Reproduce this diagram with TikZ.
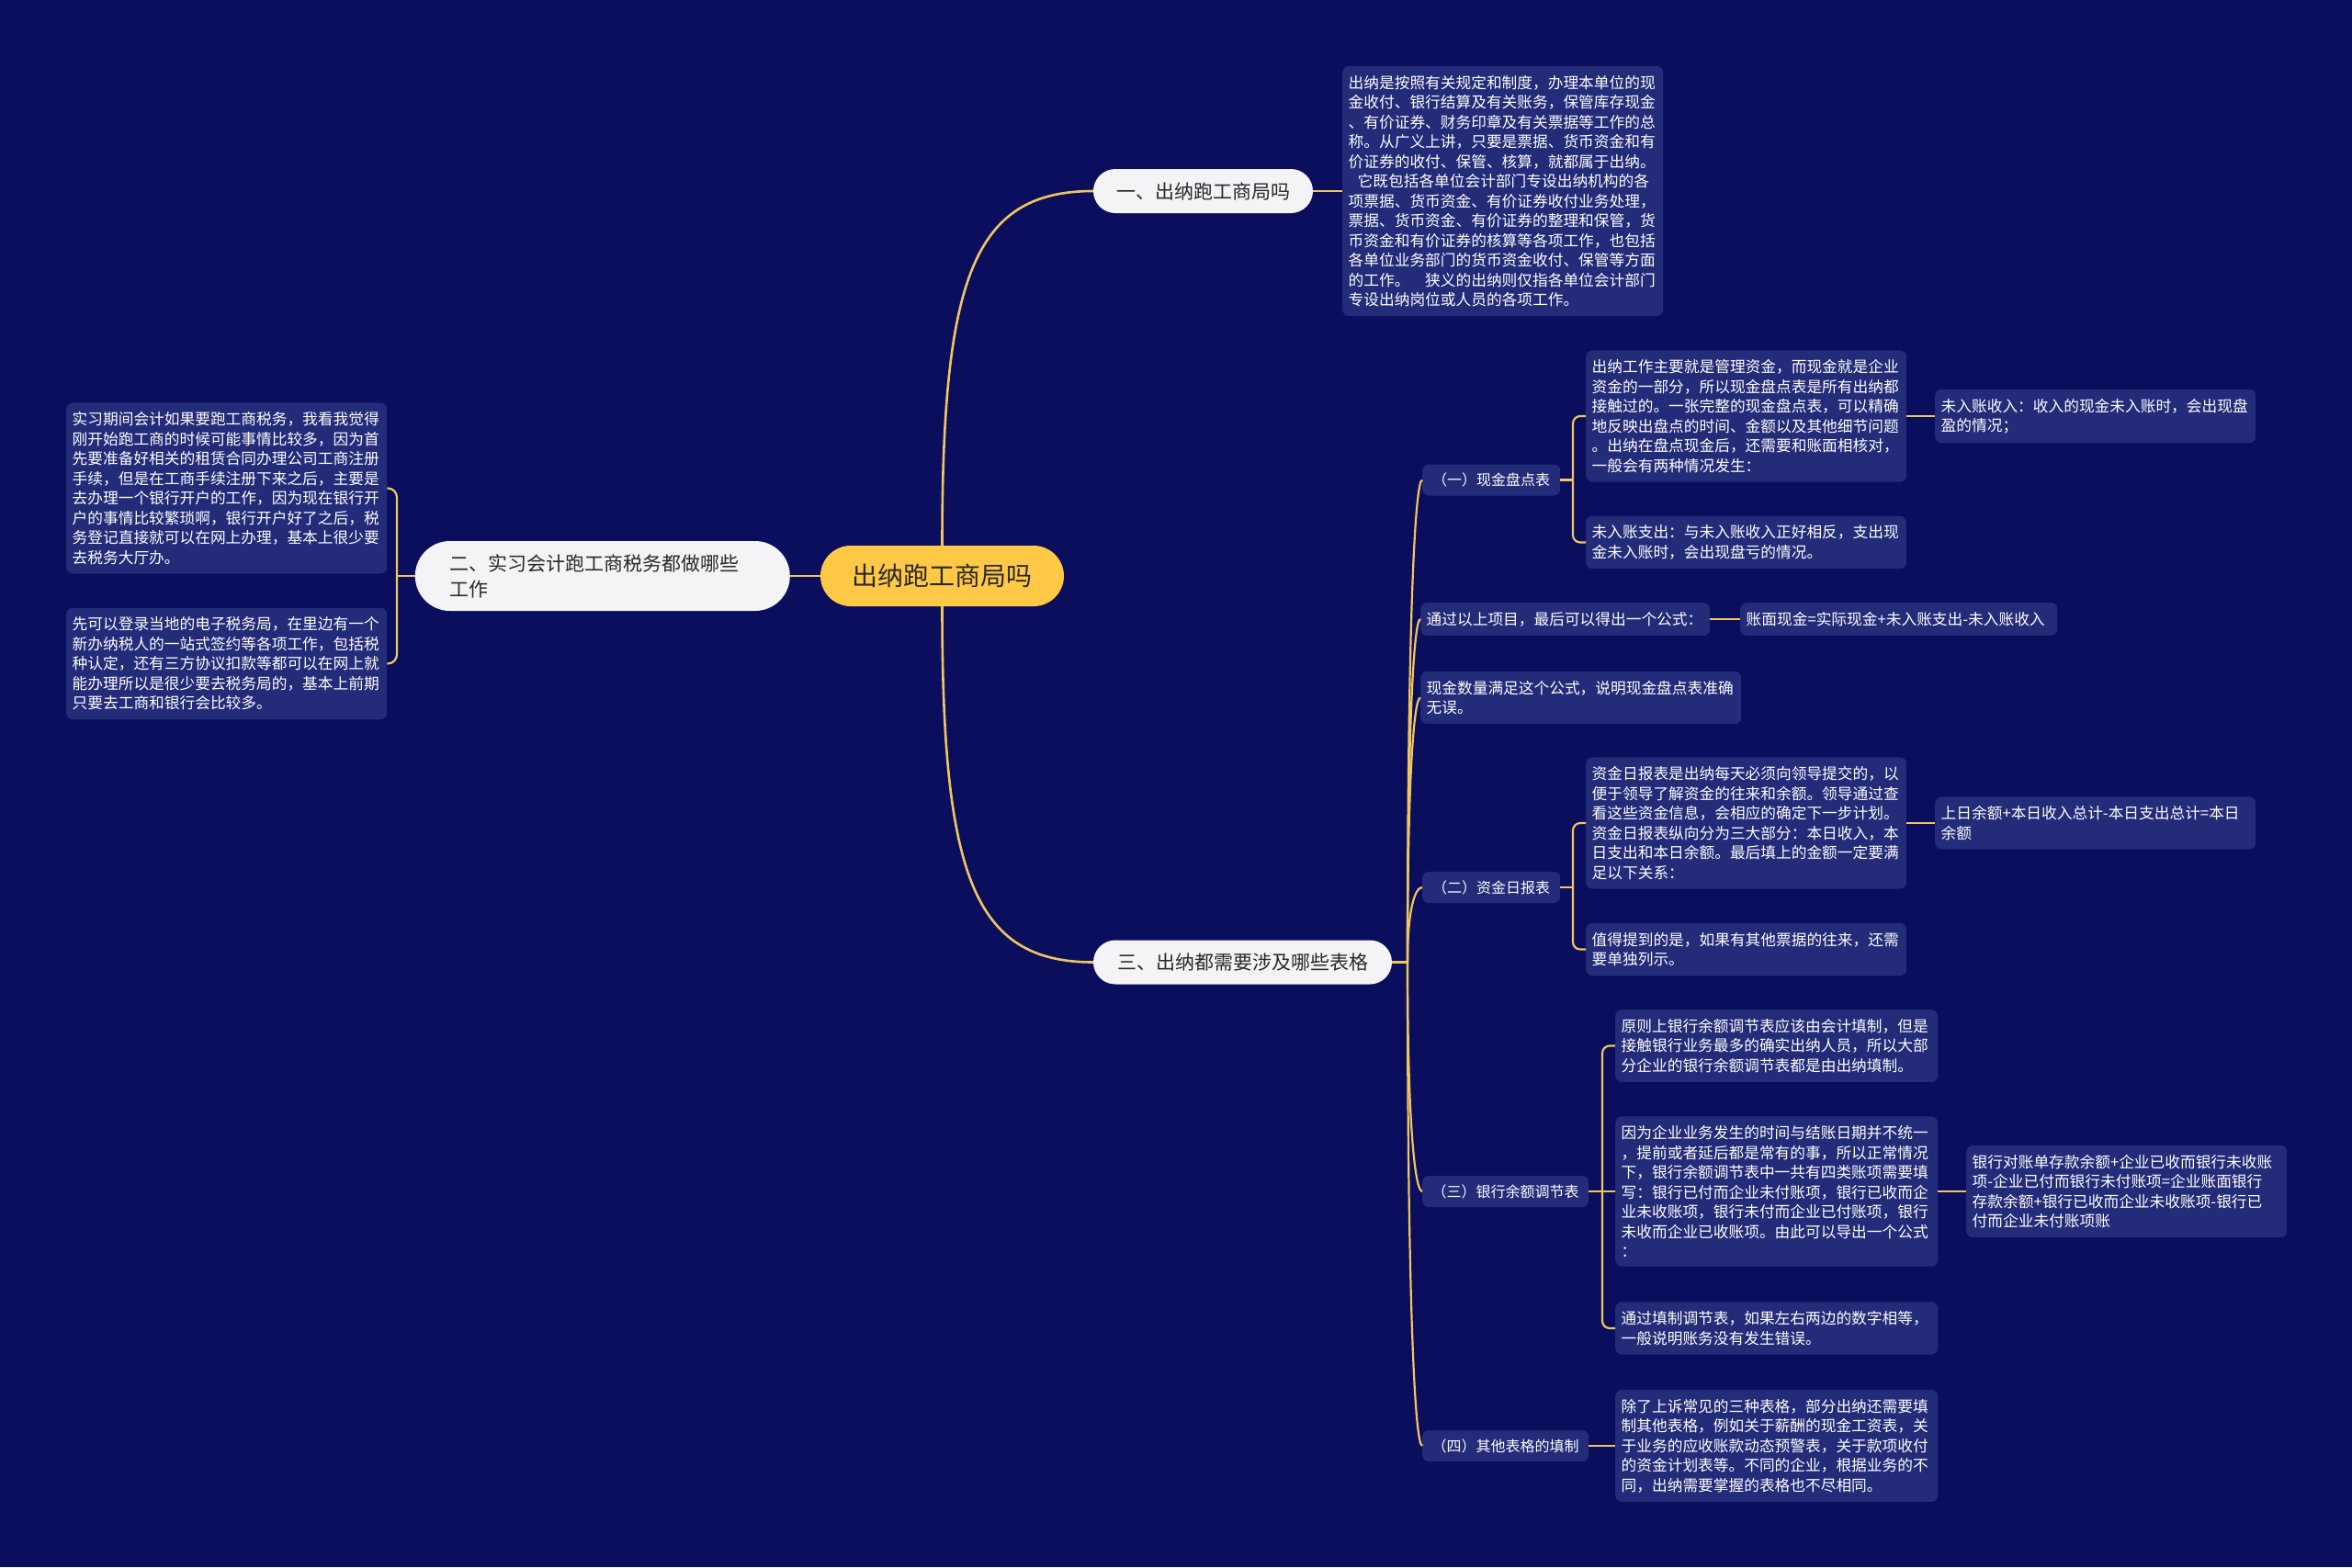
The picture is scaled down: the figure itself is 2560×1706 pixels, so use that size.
\documentclass[tikz,border=0pt]{standalone}
\usepackage{fontspec}
\setmainfont{Noto Sans CJK SC}
\usetikzlibrary{calc}
\definecolor{bg}{RGB}{10,14,92}
\definecolor{leafbg}{RGB}{36,43,120}
\definecolor{gold}{RGB}{240,198,96}
\definecolor{pillbg}{RGB}{244,244,246}
\definecolor{rootbg}{RGB}{255,200,70}
\definecolor{darktext}{RGB}{40,40,40}
\newcommand\leaffont{\fontsize{16.7}{21.5}\selectfont}
\newcommand\catfont{\fontsize{16}{20}\selectfont}
\newcommand\midfont{\fontsize{21}{28}\selectfont}
\newcommand\rootfont{\fontsize{28}{34}\selectfont}
\begin{document}
\begin{tikzpicture}[x=1pt,y=-1pt,
  leaf/.style={fill=leafbg, rounded corners=7pt, text=white, align=left, inner xsep=6.5pt, inner ysep=10pt, font=\leaffont, anchor=west, text width=#1},
  leaf/.default=336pt,
  cat/.style={fill=leafbg, rounded corners=7pt, text=white, font=\catfont, anchor=west, minimum height=34pt, inner xsep=0pt, minimum width=#1},
  pill/.style={fill=pillbg, rounded corners=24pt, text=darktext, font=\midfont, minimum height=48pt, minimum width=#1, inner xsep=0pt},
  bigpill/.style={fill=pillbg, rounded corners=38pt, text=darktext, font=\midfont, align=left, text width=332pt, inner xsep=38pt, minimum height=76pt},
  rootnode/.style={fill=rootbg, rounded corners=33pt, text=darktext, font=\rootfont, minimum width=265pt, minimum height=66pt},
  link/.style={draw=gold, line width=2.2pt},
  mainlink/.style={draw=gold, line width=2.6pt},
  mcurve/.style={to path={.. controls ($(\tikztostart|-\tikztotarget)!0.25!(\tikztostart)$) and ($(\tikztostart|-\tikztotarget)!0.2!(\tikztotarget)$) .. (\tikztotarget)}},
  tcurve/.style={to path={.. controls ($(\tikztostart|-\tikztotarget)!0.3!(\tikztostart)$) and ($(\tikztostart|-\tikztotarget)!0.5!(\tikztotarget)$) .. (\tikztotarget)}},
]
\fill[bg] (0,0) rectangle (2560,1706);
\useasboundingbox (0,0) rectangle (2560,1706);

% main nodes
\node[rootnode] (root) at (1025.5,627) {出纳跑工商局吗};
\node[pill=239pt] (n1) at (1309.5,208) {一、出纳跑工商局吗};
\node[pill=325pt] (n3) at (1352.5,1047.5) {三、出纳都需要涉及哪些表格};
\node[bigpill, anchor=east] (n2) at (860,627) {二、实习会计跑工商税务都做哪些\\工作};

% branch one
\node[leaf] (l1) at (1461,208) {出纳是按照有关规定和制度，办理本单位的现\\金收付、银行结算及有关账务，保管库存现金\\、有价证券、财务印章及有关票据等工作的总\\称。从广义上讲，只要是票据、货币资金和有\\价证券的收付、保管、核算，就都属于出纳。\\\hspace*{0.6em}它既包括各单位会计部门专设出纳机构的各\\项票据、货币资金、有价证券收付业务处理，\\票据、货币资金、有价证券的整理和保管，货\\币资金和有价证券的核算等各项工作，也包括\\各单位业务部门的货币资金收付、保管等方面\\的工作。\hspace{1em}狭义的出纳则仅指各单位会计部门\\专设出纳岗位或人员的各项工作。};

% branch two
\node[leaf] (l2a) at (72,531.5) {实习期间会计如果要跑工商税务，我看我觉得\\刚开始跑工商的时候可能事情比较多，因为首\\先要准备好相关的租赁合同办理公司工商注册\\手续，但是在工商手续注册下来之后，主要是\\去办理一个银行开户的工作，因为现在银行开\\户的事情比较繁琐啊，银行开户好了之后，税\\务登记直接就可以在网上办理，基本上很少要\\去税务大厅办。};
\node[leaf] (l2b) at (72,722.5) {先可以登录当地的电子税务局，在里边有一个\\新办纳税人的一站式签约等各项工作，包括税\\种认定，还有三方协议扣款等都可以在网上就\\能办理所以是很少要去税务局的，基本上前期\\只要去工商和银行会比较多。};

% branch three
\node[cat=150pt] (k1) at (1548,522.5) {（一）现金盘点表};
\node[leaf] (c1) at (1726,453) {出纳工作主要就是管理资金，而现金就是企业\\资金的一部分，所以现金盘点表是所有出纳都\\接触过的。一张完整的现金盘点表，可以精确\\地反映出盘点的时间、金额以及其他细节问题\\。出纳在盘点现金后，还需要和账面相核对，\\一般会有两种情况发生：};
\node[leaf] (c1a) at (2106,453) {未入账收入：收入的现金未入账时，会出现盘\\盈的情况；};
\node[leaf] (c2) at (1726,590.5) {未入账支出：与未入账收入正好相反，支出现\\金未入账时，会出现盘亏的情况。};
\node[leaf=302pt] (f1) at (1546,674) {通过以上项目，最后可以得出一个公式：};
\node[leaf=332pt] (f1a) at (1894,674) {账面现金=实际现金+未入账支出-未入账收入};
\node[leaf] (f2) at (1546,759.5) {现金数量满足这个公式，说明现金盘点表准确\\无误。};
\node[cat=150pt] (k2) at (1548,966) {（二）资金日报表};
\node[leaf] (d1) at (1726,896) {资金日报表是出纳每天必须向领导提交的，以\\便于领导了解资金的往来和余额。领导通过查\\看这些资金信息，会相应的确定下一步计划。\\资金日报表纵向分为三大部分：本日收入，本\\日支出和本日余额。最后填上的金额一定要满\\足以下关系：};
\node[leaf] (d1a) at (2106,896) {上日余额+本日收入总计-本日支出总计=本日\\余额};
\node[leaf] (d2) at (1726,1033.5) {值得提到的是，如果有其他票据的往来，还需\\要单独列示。};
\node[cat=181pt] (k3) at (1548,1297) {（三）银行余额调节表};
\node[leaf=338pt] (b1) at (1758,1138.5) {原则上银行余额调节表应该由会计填制，但是\\接触银行业务最多的确实出纳人员，所以大部\\分企业的银行余额调节表都是由出纳填制。};
\node[leaf=338pt] (b2) at (1758,1297) {因为企业业务发生的时间与结账日期并不统一\\，提前或者延后都是常有的事，所以正常情况\\下，银行余额调节表中一共有四类账项需要填\\写：银行已付而企业未付账项，银行已收而企\\业未收账项，银行未付而企业已付账项，银行\\未收而企业已收账项。由此可以导出一个公式\\：};
\node[leaf] (b2a) at (2140,1297) {银行对账单存款余额+企业已收而银行未收账\\项-企业已付而银行未付账项=企业账面银行\\存款余额+银行已收而企业未收账项-银行已\\付而企业未付账项账};
\node[leaf=338pt] (b3) at (1758,1446) {通过填制调节表，如果左右两边的数字相等，\\一般说明账务没有发生错误。};
\node[cat=181pt] (k4) at (1548,1574) {（四）其他表格的填制};
\node[leaf=338pt] (e1) at (1758,1574) {除了上诉常见的三种表格，部分出纳还需要填\\制其他表格，例如关于薪酬的现金工资表，关\\于业务的应收账款动态预警表，关于款项收付\\的资金计划表等。不同的企业，根据业务的不\\同，出纳需要掌握的表格也不尽相同。};

% junction coordinates
\coordinate (jl) at (432,627);
\coordinate (t3) at (1532,1047.5);
\coordinate (j1) at (1712,522.5);
\coordinate (j2) at (1712,966);
\coordinate (j3) at (1744,1297);

% connectors
\draw[mainlink] (root.north) to[mcurve] (n1.west);
\draw[mainlink] (root.south) to[mcurve] (n3.west);
\draw[mainlink] (root.west) -- (n2.east);
\draw[link] (n1.east) -- (l1.west);
\draw[link] (n2.west) -- (jl);
\draw[link, rounded corners=10pt] (jl) |- (l2a.east);
\draw[link, rounded corners=10pt] (jl) |- (l2b.east);
\draw[mainlink] (n3.east) -- (t3);
\foreach \k in {k1,f1,f2,k2,k3,k4} {
  \draw[link] (t3) to[tcurve] (\k.west);
}
\draw[link] (k1.east) -- (j1);
\draw[link, rounded corners=8pt] (j1) |- (c1.west);
\draw[link, rounded corners=8pt] (j1) |- (c2.west);
\draw[link] (c1.east) -- (c1a.west);
\draw[link] (f1.east) -- (f1a.west);
\draw[link] (k2.east) -- (j2);
\draw[link, rounded corners=8pt] (j2) |- (d1.west);
\draw[link, rounded corners=8pt] (j2) |- (d2.west);
\draw[link] (d1.east) -- (d1a.west);
\draw[link] (k3.east) -- (b2.west);
\draw[link, rounded corners=8pt] (j3) |- (b1.west);
\draw[link, rounded corners=8pt] (j3) |- (b3.west);
\draw[link] (b2.east) -- (b2a.west);
\draw[link] (k4.east) -- (e1.west);
\end{tikzpicture}
\end{document}
